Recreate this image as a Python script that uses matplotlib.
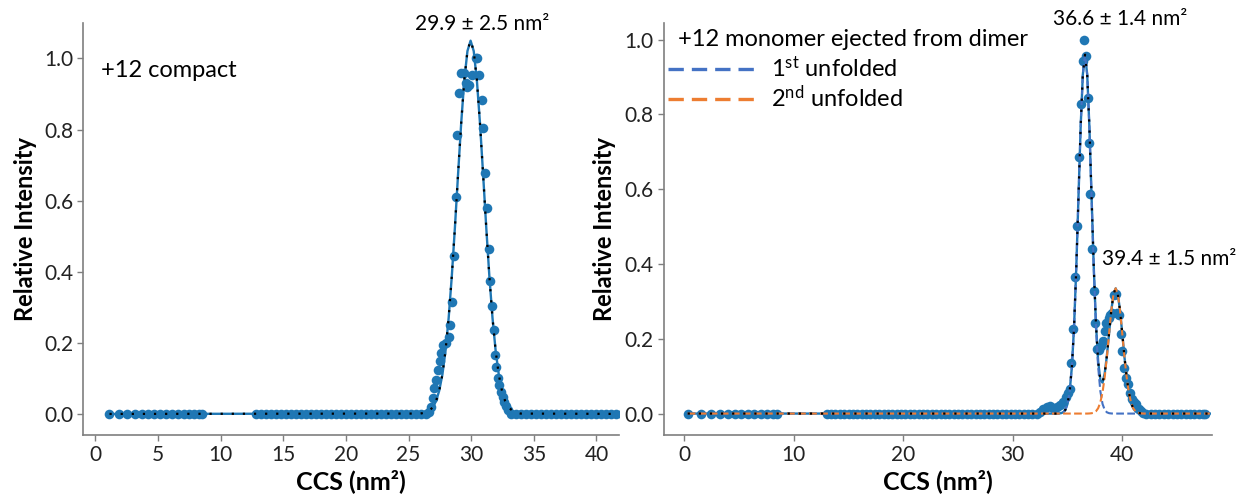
import numpy as np
import matplotlib
matplotlib.use("Agg")
import matplotlib.pyplot as plt
from matplotlib.lines import Line2D

plt.rcParams["font.family"] = ["Lato", "DejaVu Sans"]
plt.rcParams["mathtext.fontset"] = "custom"
plt.rcParams["mathtext.rm"] = "Lato"
plt.rcParams["mathtext.default"] = "regular"

# ---------------- left panel: +12 compact ----------------
left_sparse_x = [1.12, 1.87, 2.52, 3.13, 3.69, 4.2, 4.67, 5.17, 5.65, 6.1, 6.57, 7.05, 7.47, 7.89, 8.3, 8.48]
left_base1_x = [12.8, 13.2, 13.6, 14.0, 14.4, 14.8, 15.2, 15.6, 16.0, 16.4, 16.8, 17.2, 17.6, 18.0,
                18.4, 18.8, 19.2, 19.6, 20.0, 20.4, 20.8, 21.2, 21.6, 22.0, 22.4, 22.8, 23.2, 23.6,
                24.0, 24.4, 24.8, 25.2, 25.6, 26.0, 26.4]
left_peak_x = [26.6, 26.8, 26.95, 27.05, 27.2, 27.35, 27.5, 27.6, 27.75, 27.95, 28.2, 28.3, 28.45,
               28.65, 28.8, 28.9, 29.05, 29.2, 29.4, 29.55, 29.7, 29.85, 30.1, 30.35, 30.5, 30.65,
               30.85, 30.95, 31.1, 31.25, 31.4, 31.5, 31.65, 31.8, 31.9, 32.0, 32.1, 32.2, 32.35,
               32.5, 32.65, 32.8, 32.95]
left_peak_y = [0.005, 0.02, 0.044, 0.072, 0.095, 0.123, 0.15, 0.17, 0.193, 0.20, 0.217, 0.249, 0.315,
               0.445, 0.609, 0.786, 0.903, 0.959, 0.959, 0.931, 0.92, 0.925, 0.954, 1.0, 1.0, 0.954,
               0.884, 0.805, 0.679, 0.58, 0.464, 0.375, 0.305, 0.235, 0.165, 0.133, 0.10, 0.081,
               0.062, 0.048, 0.034, 0.022, 0.012]
left_base2_x = [33.2, 33.6, 34.0, 34.4, 34.8, 35.2, 35.6, 36.0, 36.4, 36.8, 37.2, 37.6, 38.0, 38.4,
                38.8, 39.2, 39.6, 40.0, 40.4, 40.8, 41.2, 41.6, 42.0]

# gaussian fit (29.9 +/- 2.5 nm2)
left_fit_x = [1.12, 25.95, 26.45, 26.7, 26.95, 27.2, 27.45, 27.7, 27.95, 28.2, 28.45, 28.7, 28.95,
              29.2, 29.45, 29.7, 29.95, 30.2, 30.45, 30.7, 30.95, 31.2, 31.45, 31.7, 31.95, 32.2,
              32.45, 32.7, 32.95, 33.45, 33.95, 42.0]
left_fit_y = [0.0, 0.001, 0.005, 0.011, 0.019, 0.037, 0.066, 0.111, 0.178, 0.270, 0.387, 0.525,
              0.674, 0.818, 0.940, 1.021, 1.05, 1.021, 0.940, 0.818, 0.674, 0.525, 0.387, 0.270,
              0.178, 0.111, 0.066, 0.037, 0.019, 0.005, 0.001, 0.0]

# ---------------- right panel: +12 monomer ejected from dimer ----------------
right_sparse_x = [0.3, 1.55, 2.4, 3.25, 3.97, 4.6, 5.2, 5.78, 6.4, 7.0, 7.58, 8.12, 8.45]
right_base1_x = [13.0, 13.4, 13.8, 14.2, 14.6, 15.0, 15.4, 15.8, 16.2, 16.6, 17.0, 17.4, 17.8, 18.2,
                 18.6, 19.0, 19.4, 19.8, 20.2, 20.6, 21.0, 21.4, 21.8, 22.2, 22.6, 23.0, 23.4, 23.8,
                 24.2, 24.6, 25.0, 25.4, 25.8, 26.2, 26.6, 27.0, 27.4, 27.8, 28.2, 28.6, 29.0, 29.4,
                 29.8, 30.2, 30.6, 31.0, 31.4, 31.8, 32.2]
right_peak_x = [32.5, 32.8, 33.1, 33.4, 33.7, 34.0, 34.3, 34.6, 34.85, 35.05, 35.22, 35.36, 35.5,
                35.68, 35.86, 36.04, 36.22, 36.4, 36.51, 36.69, 36.83, 36.94, 37.05, 37.23, 37.41,
                37.55, 37.73, 37.9, 38.05, 38.2, 38.38, 38.55, 38.75, 38.92, 39.1, 39.28, 39.45,
                39.55, 39.7, 39.85, 40.0, 40.18, 40.36, 40.54, 40.72, 40.9, 41.1, 41.3, 41.5, 41.7,
                41.9]
right_peak_y = [0.005, 0.012, 0.018, 0.02, 0.014, 0.018, 0.022, 0.03, 0.045, 0.055, 0.065, 0.136,
                0.227, 0.364, 0.502, 0.687, 0.827, 0.942, 1.0, 0.956, 0.844, 0.724, 0.587, 0.44,
                0.329, 0.243, 0.172, 0.17, 0.18, 0.194, 0.22, 0.243, 0.256, 0.265, 0.27, 0.318,
                0.32, 0.27, 0.265, 0.212, 0.167, 0.123, 0.096, 0.078, 0.056, 0.04, 0.03, 0.025,
                0.012, 0.006, 0.002]
right_base2_x = [42.2, 42.6, 43.0, 43.4, 43.8, 44.2, 44.6, 45.0, 45.4, 45.8, 46.2, 46.6, 47.0, 47.4, 47.6]

# two gaussian components (36.6 +/- 1.4, 39.4 +/- 1.5 nm2)
right_fit_x = [0.3, 33.8, 34.0, 34.2, 34.4, 34.6, 34.8, 35.0, 35.2, 35.4, 35.6, 35.8, 36.0, 36.2,
               36.4, 36.6, 36.8, 37.0, 37.2, 37.4, 37.6, 37.8, 38.0, 38.2, 38.4, 38.6, 38.8, 39.0,
               39.2, 39.4, 39.6, 39.8, 40.0, 40.2, 40.4, 40.6, 40.8, 41.0, 41.2, 41.4, 41.6, 41.8,
               42.0, 48.0]
comp1_y = [0.0, 0.0, 0.0, 0.0003, 0.001, 0.0033, 0.0098, 0.0257, 0.060, 0.125, 0.233, 0.388, 0.577,
           0.766, 0.907, 0.960, 0.907, 0.766, 0.577, 0.388, 0.233, 0.125, 0.060, 0.0257, 0.0098,
           0.0033, 0.001, 0.0003, 0.0, 0.0, 0.0, 0.0, 0.0, 0.0, 0.0, 0.0, 0.0, 0.0, 0.0, 0.0, 0.0,
           0.0, 0.0, 0.0]
comp2_y = [0.0, 0.0, 0.0, 0.0, 0.0, 0.0, 0.0, 0.0, 0.0, 0.0, 0.0, 0.0, 0.0, 0.0, 0.0, 0.0, 0.0,
           0.0003, 0.0009, 0.0024, 0.0062, 0.0143, 0.030, 0.057, 0.098, 0.152, 0.215, 0.275, 0.319,
           0.335, 0.319, 0.275, 0.215, 0.152, 0.098, 0.057, 0.030, 0.0143, 0.0062, 0.0024, 0.0009,
           0.0003, 0.0, 0.0]

DOT = "#1f77b4"
BLUE = "#4472c4"
ORANGE = "#ed7d31"


def style_axes(ax, label_x):
    for s in ("top", "right"):
        ax.spines[s].set_visible(False)
    for s in ("left", "bottom"):
        ax.spines[s].set_color("#7f7f7f")
        ax.spines[s].set_linewidth(1.2)
    ax.tick_params(labelsize=15, colors="#7f7f7f", labelcolor="#222222", length=4, width=1, pad=3)
    ax.set_xlabel("CCS (nm²)", fontsize=18, fontweight="bold", labelpad=3)
    ax.set_ylabel("Relative Intensity", fontsize=17, fontweight="bold")
    ax.yaxis.set_label_coords(label_x, 0.5)


fig = plt.figure(figsize=(12.38, 4.98), dpi=100)

# left
ax1 = fig.add_axes([0.067, 0.126, 0.433, 0.828])
lx = np.array(left_sparse_x + left_base1_x + left_peak_x + left_base2_x)
ly = np.array([0.0] * len(left_sparse_x) + [0.0] * len(left_base1_x) + left_peak_y + [0.0] * len(left_base2_x))
ax1.scatter(lx, ly, s=48, color=DOT, zorder=2, linewidths=0)
ax1.plot(left_fit_x, left_fit_y, color=DOT, lw=1.7, zorder=3)
ax1.plot(left_fit_x, left_fit_y, color="black", lw=1.6, ls=(0, (1, 4)), zorder=4)
ax1.set_xlim(-1.0, 41.8)
ax1.set_ylim(-0.06, 1.10)
ax1.set_xticks([0, 5, 10, 15, 20, 25, 30, 35, 40])
ax1.set_yticks([0.0, 0.2, 0.4, 0.6, 0.8, 1.0])
style_axes(ax1, -0.086)
ax1.text(0.45, 0.965, "+12 compact", fontsize=17, va="center", ha="left")
ax1.text(30.9, 1.098, "29.9 ± 2.5 nm²", fontsize=15, va="center", ha="center", clip_on=False)

# right
ax2 = fig.add_axes([0.536, 0.126, 0.443, 0.828])
rx = np.array(right_sparse_x + right_base1_x + right_peak_x + right_base2_x)
ry = np.array([0.0] * len(right_sparse_x) + [0.0] * len(right_base1_x) + right_peak_y + [0.0] * len(right_base2_x))
total = np.array(comp1_y) + np.array(comp2_y)
ax2.scatter(rx, ry, s=48, color=DOT, zorder=2, linewidths=0)
ax2.plot(right_fit_x, total, color=DOT, lw=1.7, zorder=3)
ax2.plot(right_fit_x, comp1_y, color=BLUE, lw=1.5, ls="--", zorder=4)
ax2.plot(right_fit_x, comp2_y, color=ORANGE, lw=1.5, ls="--", zorder=4)
ax2.plot(right_fit_x, total, color="black", lw=1.6, ls=(0, (1, 4)), zorder=5)
ax2.set_xlim(-1.9, 48.2)
ax2.set_ylim(-0.058, 1.045)
ax2.set_xticks([0, 10, 20, 30, 40])
ax2.set_yticks([0.0, 0.2, 0.4, 0.6, 0.8, 1.0])
style_axes(ax2, -0.086)
ax2.text(-0.55, 1.0, "+12 monomer ejected from dimer", fontsize=17, va="center", ha="left")
ax2.text(39.8, 1.055, "36.6 ± 1.4 nm²", fontsize=15, va="center", ha="center", clip_on=False)
ax2.text(44.3, 0.413, "39.4 ± 1.5 nm²", fontsize=15, va="center", ha="center", clip_on=False)

handles = [Line2D([], [], color=BLUE, lw=2.4, dashes=(4.6, 2.4)),
           Line2D([], [], color=ORANGE, lw=2.4, dashes=(4.6, 2.4))]
ax2.legend(handles, ["1$^{st}$ unfolded", "2$^{nd}$ unfolded"], loc="upper left",
           bbox_to_anchor=(0.008, 0.92), frameon=False, fontsize=17, handlelength=3.8,
           handletextpad=0.55, labelspacing=0.15, borderpad=0, borderaxespad=0)

fig.savefig("out.png", dpi=100)
